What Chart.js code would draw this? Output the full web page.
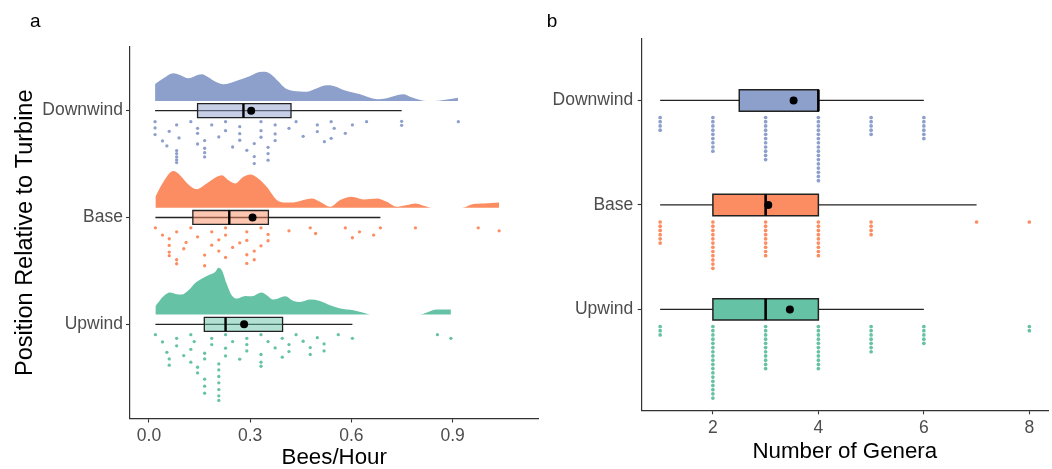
<!DOCTYPE html>
<html><head><meta charset="utf-8">
<script src="https://cdn.jsdelivr.net/npm/chart.js@4.4.1/dist/chart.umd.min.js"></script>
<style>
html,body{margin:0;padding:0;background:#fff;overflow:hidden;}
#wrap{position:relative;width:1052px;height:469px;background:#fff;}
#ca{position:absolute;left:0;top:0;}
#cb{position:absolute;left:545px;top:0;}
</style></head><body>
<div id="wrap"><canvas id="ca" width="545" height="469"></canvas><canvas id="cb" width="507" height="469"></canvas></div>
<script>
// ---------- categories ----------
const groups = ['Upwind', 'Base', 'Downwind'];

// ---------- panel a : Bees/Hour ----------
const beesTicks = [0, 0.3, 0.6, 0.9];
const beesTickLabels = ['0.0', '0.3', '0.6', '0.9'];

// raw observations (bees/hour) and their vertical jitter below the category line
const downwindBees = [0.018,0.018,0.018,0.040,0.053,0.060,0.082,0.089,0.082,0.082,0.082,0.082,0.082,0.124,0.144,0.144,0.144,0.165,0.165,0.165,0.165,0.186,0.207,0.227,0.227,0.248,0.269,0.269,0.269,0.290,0.312,0.312,0.312,0.332,0.332,0.332,0.353,0.353,0.353,0.374,0.374,0.374,0.415,0.436,0.457,0.499,0.499,0.520,0.540,0.540,0.549,0.582,0.603,0.645,0.749,0.749,0.917];
const downwindJitter = [0.103,0.162,0.224,0.283,0.330,0.193,0.134,0.255,0.374,0.402,0.433,0.461,0.486,0.103,0.165,0.212,0.312,0.280,0.352,0.393,0.433,0.134,0.246,0.103,0.187,0.340,0.150,0.215,0.277,0.371,0.308,0.430,0.495,0.103,0.187,0.249,0.343,0.402,0.464,0.134,0.218,0.280,0.165,0.103,0.240,0.134,0.196,0.290,0.259,0.103,0.165,0.212,0.134,0.103,0.100,0.137,0.103];

const baseBees = [0.019,0.040,0.060,0.060,0.060,0.060,0.082,0.082,0.082,0.103,0.110,0.124,0.144,0.165,0.165,0.186,0.186,0.207,0.207,0.227,0.227,0.227,0.248,0.269,0.290,0.290,0.290,0.290,0.312,0.312,0.332,0.332,0.353,0.353,0.415,0.478,0.494,0.582,0.603,0.624,0.666,0.686,0.790,0.976,1.038];
const baseJitter = [0.097,0.165,0.199,0.262,0.324,0.358,0.134,0.396,0.433,0.293,0.234,0.097,0.181,0.352,0.452,0.134,0.259,0.209,0.315,0.097,0.165,0.374,0.280,0.237,0.134,0.215,0.349,0.430,0.315,0.396,0.097,0.265,0.159,0.218,0.125,0.097,0.150,0.097,0.190,0.134,0.165,0.097,0.097,0.097,0.125];

const upwindBees = [0.019,0.040,0.053,0.060,0.060,0.082,0.082,0.103,0.124,0.124,0.124,0.134,0.144,0.144,0.165,0.165,0.165,0.165,0.165,0.186,0.186,0.207,0.207,0.207,0.207,0.207,0.207,0.207,0.227,0.227,0.227,0.248,0.269,0.290,0.290,0.290,0.332,0.332,0.332,0.332,0.353,0.374,0.395,0.395,0.415,0.415,0.436,0.457,0.478,0.478,0.499,0.519,0.519,0.561,0.603,0.855,0.895];
const upwindJitter = [0.097,0.165,0.262,0.324,0.383,0.131,0.202,0.293,0.097,0.234,0.355,0.162,0.402,0.455,0.271,0.324,0.514,0.579,0.645,0.131,0.190,0.371,0.427,0.489,0.548,0.611,0.670,0.713,0.097,0.224,0.296,0.162,0.327,0.131,0.190,0.249,0.097,0.283,0.355,0.393,0.162,0.221,0.131,0.308,0.190,0.255,0.097,0.159,0.218,0.283,0.125,0.184,0.249,0.097,0.131,0.097,0.131];

// box statistics [min, q1, median, q3, max]
const upwindBeesBox = [0.019, 0.164, 0.227, 0.396, 0.603];
const baseBeesBox = [0.019, 0.130, 0.238, 0.354, 0.686];
const downwindBeesBox = [0.018, 0.144, 0.280, 0.421, 0.749];
const beesMeans = [0.282, 0.307, 0.303];

// half-violin densities: x grid and height (category units)
const downwindDensX = [0.018,0.043,0.072,0.092,0.117,0.137,0.156,0.176,0.196,0.221,0.260,0.300,0.324,0.344,0.364,0.384,0.404,0.428,0.468,0.498,0.527,0.547,0.577,0.626,0.676,0.705,0.735,0.755,0.774,0.804,0.824,0.844,0.873,0.916];
const downwindDensH = [0.159,0.212,0.259,0.243,0.212,0.234,0.249,0.221,0.181,0.156,0.190,0.234,0.268,0.274,0.243,0.181,0.118,0.093,0.087,0.118,0.146,0.140,0.103,0.062,0.016,0.025,0.053,0.062,0.040,0.009,0.000,0.000,0.009,0.031];
const baseDensX = [0.019,0.043,0.072,0.092,0.117,0.141,0.171,0.201,0.216,0.235,0.255,0.280,0.300,0.324,0.349,0.379,0.399,0.428,0.458,0.483,0.507,0.537,0.567,0.601,0.636,0.676,0.705,0.735,0.765,0.789,0.814,0.839,0.928,0.962,0.992,1.038];
const baseDensH = [0.103,0.243,0.343,0.305,0.218,0.174,0.227,0.290,0.305,0.259,0.227,0.290,0.312,0.274,0.196,0.072,0.050,0.050,0.072,0.087,0.056,0.009,0.072,0.103,0.078,0.087,0.056,0.009,0.025,0.040,0.019,0.000,0.000,0.034,0.040,0.050];
const upwindDensX = [0.019,0.043,0.062,0.082,0.097,0.117,0.137,0.156,0.181,0.196,0.206,0.216,0.230,0.245,0.260,0.285,0.305,0.334,0.349,0.369,0.404,0.428,0.448,0.478,0.507,0.537,0.567,0.606,0.636,0.656,0.804,0.824,0.854,0.895];
const upwindDensH = [0.078,0.171,0.206,0.190,0.187,0.227,0.296,0.336,0.374,0.399,0.439,0.414,0.290,0.181,0.150,0.174,0.171,0.206,0.181,0.140,0.171,0.128,0.118,0.140,0.128,0.087,0.056,0.040,0.016,0.000,0.000,0.019,0.047,0.047];

// ---------- panel b : Number of Genera ----------
const generaTicks = [2, 4, 6, 8];
const generaTickLabels = ['2', '4', '6', '8'];
const genera = [1, 2, 3, 4, 5, 6, 7, 8];
const upwindGeneraCounts = [3, 18, 11, 11, 7, 5, 0, 2];
const baseGeneraCounts = [6, 12, 9, 9, 4, 0, 1, 1];
const downwindGeneraCounts = [4, 9, 11, 16, 5, 6, 0, 0];
const upwindGeneraBox = [1, 2, 3, 4, 6];
const baseGeneraBox = [1, 2, 3, 4, 7];
const downwindGeneraBox = [1, 2.5, 4, 4, 6];
const generaMeans = [3.46, 3.05, 3.53];

// ---------- styles ----------
const FONT = "'Liberation Sans', Arial, sans-serif";
const groupColors = ['#66C2A5', '#FC8D62', '#8DA0CB'];
const lightColors = ['rgba(102,194,165,0.5)', 'rgba(252,141,98,0.5)', 'rgba(141,160,203,0.5)'];
const AXIS = '#333333';
const TICK_TXT = '#4D4D4D';

function boxSets(stats, mean, cat, half, fillColor, boxW, medW) {
  const [lo, q1, med, q3, hi] = stats;
  return [
    {data: [{x: lo, y: cat}, {x: hi, y: cat}], showLine: true, borderColor: '#222', borderWidth: 1.3, pointRadius: 0, order: 4},
    {data: [{x: q1, y: cat - half}, {x: q3, y: cat - half}, {x: q3, y: cat + half}, {x: q1, y: cat + half}, {x: q1, y: cat - half}],
     showLine: true, fill: 'shape', backgroundColor: fillColor, borderColor: '#222', borderWidth: boxW,
     borderJoinStyle: 'miter', borderCapStyle: 'square', pointRadius: 0, order: 3},
    {data: [{x: med, y: cat - half}, {x: med, y: cat + half}], showLine: true, borderColor: '#000', borderWidth: medW, pointRadius: 0, order: 2},
    {data: [{x: mean, y: cat}], showLine: false, pointRadius: 4, pointBackgroundColor: '#000', pointBorderWidth: 0, borderWidth: 0, order: 1}
  ];
}

// ---------- panel a datasets ----------
const beesSeries = [
  {x: upwindBees, j: upwindJitter, box: upwindBeesBox, dx: upwindDensX, dh: upwindDensH},
  {x: baseBees, j: baseJitter, box: baseBeesBox, dx: baseDensX, dh: baseDensH},
  {x: downwindBees, j: downwindJitter, box: downwindBeesBox, dx: downwindDensX, dh: downwindDensH}
];
const DENS_GAP = 0.091;
const dsA = [];
beesSeries.forEach((s, i) => {
  const cat = i + 1;
  const base = cat + DENS_GAP;
  dsA.push({data: s.dx.map((x, k) => ({x: x, y: base + s.dh[k]})), showLine: true, fill: {value: base},
    backgroundColor: groupColors[i], borderColor: 'rgba(0,0,0,0)', borderWidth: 1, pointRadius: 0,
    cubicInterpolationMode: 'monotone', order: 6});
  dsA.push({data: s.x.map((x, k) => ({x: x, y: cat - s.j[k]})), showLine: false, pointRadius: 1.65,
    pointBackgroundColor: groupColors[i], pointBorderWidth: 0, borderWidth: 0, order: 5});
  boxSets(s.box, beesMeans[i], cat, 0.0655, lightColors[i], 1.3, 2.4).forEach(d => dsA.push(d));
});

// ---------- panel b datasets ----------
const generaSeries = [
  {counts: upwindGeneraCounts, box: upwindGeneraBox},
  {counts: baseGeneraCounts, box: baseGeneraBox},
  {counts: downwindGeneraCounts, box: downwindGeneraBox}
];
const DOT_FIRST = 0.163, DOT_STEP = 0.0403;
const dsB = [];
generaSeries.forEach((s, i) => {
  const cat = i + 1;
  const pts = [];
  genera.forEach((g, k) => {
    for (let n = 0; n < s.counts[k]; n++) pts.push({x: g, y: cat - (DOT_FIRST + n * DOT_STEP)});
  });
  dsB.push({data: pts, showLine: false, pointRadius: 1.85, pointBackgroundColor: groupColors[i], pointBorderWidth: 0, borderWidth: 0, order: 5});
  boxSets(s.box, generaMeans[i], cat, 0.102, groupColors[i], 1.5, 2.6).forEach(d => dsB.push(d));
});

// ---------- shared helpers ----------
function panelLetter(letter, x, y) {
  return {id: 'letter' + letter, afterDraw(chart) {
    const ctx = chart.ctx; ctx.save();
    ctx.font = "19px " + FONT; ctx.fillStyle = '#000'; ctx.textBaseline = 'alphabetic'; ctx.textAlign = 'left';
    ctx.fillText(letter, x, y); ctx.restore();
  }};
}
function gridOpts() {
  return {display: true, drawOnChartArea: false, drawTicks: true, tickLength: 4, tickColor: AXIS, tickWidth: 1.1};
}
function borderOpts() { return {display: true, color: AXIS, width: 1.2}; }

Chart.defaults.font.family = FONT;

new Chart(document.getElementById('ca'), {
  type: 'line',
  data: {datasets: dsA},
  options: {
    responsive: false, animation: false, events: [],
    layout: {padding: {left: 0, right: 6.5, top: 47, bottom: 0}},
    plugins: {legend: {display: false}, tooltip: {enabled: false}, title: {display: false}},
    scales: {
      x: {type: 'linear', min: -0.0563, max: 1.1547,
        afterBuildTicks: s => { s.ticks = beesTicks.map(v => ({value: v})); },
        afterFit: s => { s.height = 50.5; },
        grid: gridOpts(), border: borderOpts(),
        ticks: {callback: (v, i) => beesTickLabels[i], font: {size: 17.5}, color: TICK_TXT, padding: 3.3, maxRotation: 0, minRotation: 0, autoSkip: false},
        title: {display: true, text: 'Bees/Hour', color: '#000', font: {size: 22.3, lineHeight: 1}, padding: {top: 0, bottom: 0}}
      },
      y: {type: 'linear', min: 0.118, max: 3.596,
        afterBuildTicks: s => { s.ticks = [1, 2, 3].map(v => ({value: v})); },
        afterFit: s => { s.width = 130; },
        grid: gridOpts(), border: borderOpts(),
        ticks: {callback: v => groups[Math.round(v) - 1], font: {size: 17.5}, color: TICK_TXT, padding: 3, autoSkip: false},
        title: {display: true, text: 'Position Relative to Turbine', color: '#000', font: {size: 23.5, lineHeight: 1}, padding: {top: 13.5, bottom: 0}}
      }
    }
  },
  plugins: [panelLetter('a', 30, 26.5)]
});

new Chart(document.getElementById('cb'), {
  type: 'line',
  data: {datasets: dsB},
  options: {
    responsive: false, animation: false, events: [],
    layout: {padding: {left: 0, right: 2, top: 38.3, bottom: 0}},
    plugins: {legend: {display: false}, tooltip: {enabled: false}, title: {display: false}},
    scales: {
      x: {type: 'linear', min: 0.65, max: 8.354,
        afterBuildTicks: s => { s.ticks = generaTicks.map(v => ({value: v})); },
        afterFit: s => { s.height = 58.7; },
        grid: gridOpts(), border: borderOpts(),
        ticks: {callback: (v, i) => generaTickLabels[i], font: {size: 17.5}, color: TICK_TXT, padding: 3.7, maxRotation: 0, minRotation: 0, autoSkip: false},
        title: {display: true, text: 'Number of Genera', color: '#000', font: {size: 22.3, lineHeight: 1}, padding: {top: 0, bottom: 6.2}}
      },
      y: {type: 'linear', min: 0.035, max: 3.595,
        afterBuildTicks: s => { s.ticks = [1, 2, 3].map(v => ({value: v})); },
        afterFit: s => { s.width = 96.7; },
        grid: gridOpts(), border: borderOpts(),
        ticks: {callback: v => groups[Math.round(v) - 1], font: {size: 17.5}, color: TICK_TXT, padding: 4.4, autoSkip: false}
      }
    }
  },
  plugins: [panelLetter('b', 1.7, 26.5)]
});
</script></body></html>
